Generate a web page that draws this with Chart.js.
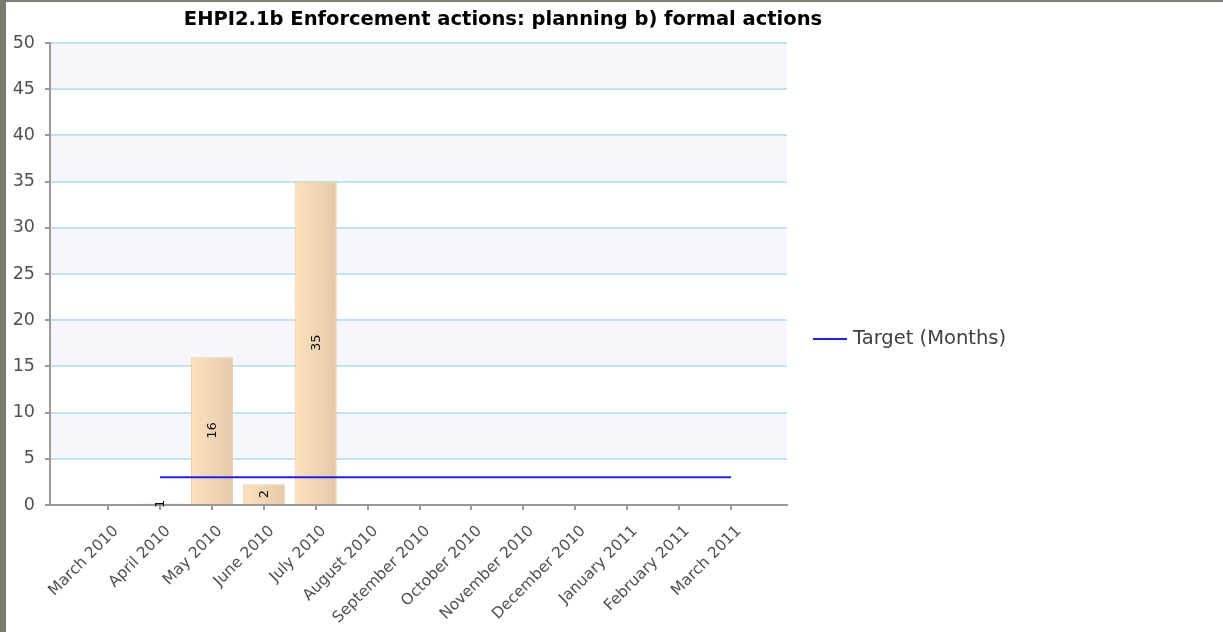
<!DOCTYPE html>
<html>
<head>
<meta charset="utf-8">
<script src="https://cdn.jsdelivr.net/npm/chart.js@4.4.1/dist/chart.umd.min.js"></script>
<style>
    html, body { margin: 0; padding: 0; background: #fff; }
    #frame {
        position: absolute; left: 0; top: 0;
        width: 1223px; height: 632px; box-sizing: border-box;
        border-left: 6px solid #7b7b70; border-top: 2px solid #7b7b70;
    }
    #wrap { position: relative; width: 1217px; height: 630px; }
</style>
</head>
<body>
<div id="frame"><div id="wrap"><canvas id="chart"></canvas></div></div>
<script>
const TITLE = 'EHPI2.1b Enforcement actions: planning b) formal actions';
const months = ['March 2010', 'April 2010', 'May 2010', 'June 2010', 'July 2010', 'August 2010',
    'September 2010', 'October 2010', 'November 2010', 'December 2010', 'January 2011',
    'February 2011', 'March 2011'];
const actions = [0, 0.15, 16, 2.25, 35, 0, 0, 0, 0, 0, 0, 0, 0];
const actionLabels = ['', '1', '16', '2', '35', '', '', '', '', '', '', '', ''];
const target = [null, 3, 3, 3, 3, 3, 3, 3, 3, 3, 3, 3, 3];
const targetLabel = 'Target (Months)';

const FONT = "'DejaVu Sans', Tahoma, sans-serif";
const BAR_HALF = 21;

// alternating light bands behind the grid
const bandsPlugin = {
    id: 'bands',
    beforeDraw(chart) {
        const { ctx, chartArea: a, scales: { y } } = chart;
        ctx.save();
        ctx.fillStyle = '#f6f7fd';
        for (let v = 5; v < 50; v += 10) {
            const top = y.getPixelForValue(v + 5), bot = y.getPixelForValue(v);
            ctx.fillRect(a.left, top, a.right - a.left, bot - top);
        }
        ctx.restore();
    }
};

// rotated value labels in the middle of each bar
const barLabelPlugin = {
    id: 'barLabels',
    afterDatasetsDraw(chart) {
        const { ctx } = chart;
        const meta = chart.getDatasetMeta(0);
        ctx.save();
        ctx.font = '13px ' + FONT;
        ctx.fillStyle = '#111';
        ctx.textAlign = 'center';
        ctx.textBaseline = 'middle';
        meta.data.forEach((bar, i) => {
            const txt = actionLabels[i];
            if (!txt) return;
            ctx.save();
            ctx.translate(bar.x, (bar.y + bar.base) / 2);
            ctx.rotate(-Math.PI / 2);
            ctx.fillText(txt, 0, 1);
            ctx.restore();
        });
        ctx.restore();
    }
};

// title and legend placed like the original
const headerPlugin = {
    id: 'header',
    afterDraw(chart) {
        const { ctx } = chart;
        ctx.save();
        ctx.font = 'bold 19.5px ' + FONT;
        ctx.fillStyle = '#000';
        ctx.textAlign = 'center';
        ctx.textBaseline = 'middle';
        ctx.fillText(TITLE, 497, 17.5);

        ctx.strokeStyle = '#2020ff';
        ctx.lineWidth = 2;
        ctx.beginPath();
        ctx.moveTo(807, 337);
        ctx.lineTo(841, 337);
        ctx.stroke();
        ctx.font = '19.5px ' + FONT;
        ctx.fillStyle = '#404040';
        ctx.textAlign = 'left';
        ctx.fillText(targetLabel, 847, 337);
        ctx.restore();
    }
};

const barFill = (c) => {
    const x = c.chart.scales.x;
    const px = x ? x.getPixelForValue(c.dataIndex) : NaN;
    if (c.type !== 'data' || !isFinite(px)) return '#f3d8b4';
    const g = c.chart.ctx.createLinearGradient(px - BAR_HALF, 0, px + BAR_HALF, 0);
    g.addColorStop(0, '#fde1bd');
    g.addColorStop(1, '#e4caa8');
    return g;
};

new Chart(document.getElementById('chart'), {
    data: {
        datasets: [
            {
                type: 'bar',
                label: 'Actions',
                data: months.map((m, i) => ({ x: i, y: actions[i] })),
                backgroundColor: barFill,
                borderColor: '#e6cdab',
                borderWidth: 1,
                barPercentage: 0.81,
                categoryPercentage: 1,
                order: 2,
            },
            {
                type: 'line',
                label: targetLabel,
                data: months.map((m, i) => ({ x: i, y: target[i] })),
                borderColor: '#2020ff',
                borderWidth: 2,
                pointRadius: 0,
                fill: false,
                order: 1,
            },
        ],
    },
    options: {
        responsive: true,
        maintainAspectRatio: false,
        animation: false,
        layout: { padding: { top: 41, right: 436, left: 0, bottom: 0 } },
        plugins: { legend: { display: false }, title: { display: false }, tooltip: { enabled: false } },
        scales: {
            x: {
                type: 'linear',
                offset: false,
                min: -1.12,
                max: 13.08,
                afterBuildTicks: (s) => { s.ticks = months.map((m, i) => ({ value: i })); },
                afterFit: (s) => { s.height = 127; },
                grid: { offset: false, drawOnChartArea: false, tickColor: '#9a9a9a', tickLength: 5, lineWidth: 2 },
                border: { color: '#9a9a9a', width: 2 },
                ticks: {
                    autoSkip: false,
                    minRotation: 45,
                    maxRotation: 45,
                    padding: 12,
                    labelOffset: 8,
                    color: '#505050',
                    font: { family: FONT, size: 15.5 },
                    callback: (v) => months[v],
                },
            },
            y: {
                min: 0,
                max: 50,
                afterFit: (s) => { s.width = 44; },
                grid: { color: '#c0e4ec', lineWidth: 2, tickColor: '#9a9a9a', tickLength: 5 },
                border: { color: '#9a9a9a', width: 2 },
                ticks: {
                    stepSize: 5,
                    padding: 10,
                    color: '#505050',
                    font: { family: FONT, size: 17.5 },
                },
            },
        },
    },
    plugins: [bandsPlugin, barLabelPlugin, headerPlugin],
});
</script>
</body>
</html>
